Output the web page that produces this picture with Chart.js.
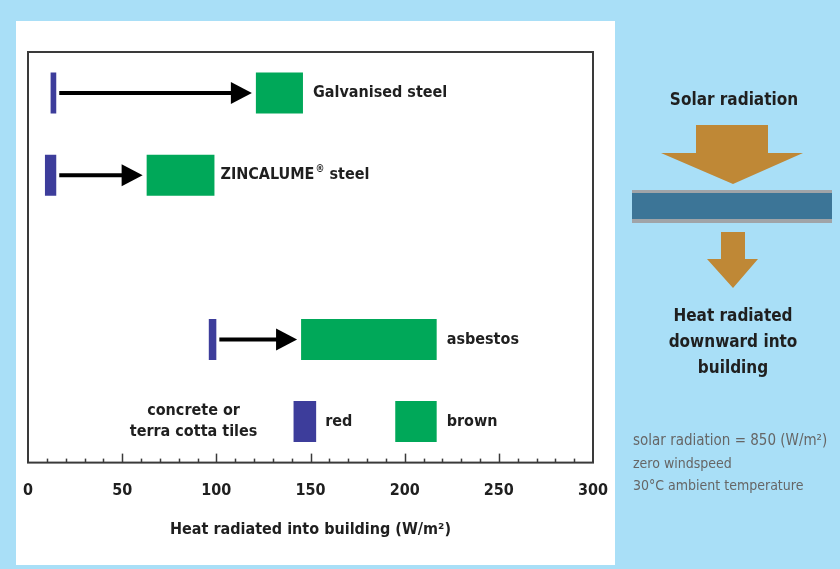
<!DOCTYPE html>
<html>
<head>
<meta charset="utf-8">
<script src="https://cdn.jsdelivr.net/npm/chart.js@4/dist/chart.umd.min.js"></script>
<style>
  body { margin: 0; background: #a9dff7; }
  canvas { display: block; }
</style>
</head>
<body>
<canvas id="chart" width="840" height="569"></canvas>
<script>
//--- Data.
const categories = ['Galvanised steel', 'ZINCALUME® steel', '', 'asbestos', ['concrete or', 'terra cotta tiles']];
const lowRange = [[12, 15], [9, 15], null, [96, 100], [141, 153]];
const highRange = [[121, 146], [63, 99], null, [145, 217], [195, 217]];
const lowLabels = ['', '', '', '', 'red'];
const highLabels = ['Galvanised steel', 'ZINCALUME|® steel', '', 'asbestos', 'brown'];
const arrowRows = [0, 1, 3];
const xTickStep = 50;
const xMinorStep = 10;

const FONT = "'Liberation Sans Narrow', 'DejaVu Sans Condensed', 'Arial Narrow', sans-serif";

//--- Background, side panel and annotations.
const heatPlugin = {
  id: 'heatPlugin',
  beforeDraw(chart) {
    const { ctx } = chart;
    ctx.save();
    ctx.fillStyle = '#a9dff7';
    ctx.fillRect(0, 0, chart.width, chart.height);
    ctx.fillStyle = '#ffffff';
    ctx.fillRect(16, 21, 599, 544);

    // Side panel: roof diagram.
    ctx.fillStyle = '#1f1f1f';
    ctx.font = 'bold 17px ' + FONT;
    ctx.textAlign = 'center';
    ctx.textBaseline = 'middle';
    ctx.fillText('Solar radiation', 734, 101);

    ctx.fillStyle = '#bf8836';
    ctx.beginPath();
    ctx.moveTo(696, 125);
    ctx.lineTo(768, 125);
    ctx.lineTo(768, 153);
    ctx.lineTo(803, 153);
    ctx.lineTo(733, 184);
    ctx.lineTo(661, 153);
    ctx.lineTo(696, 153);
    ctx.closePath();
    ctx.fill();

    ctx.fillStyle = '#a0a4a8';
    ctx.fillRect(632, 190, 200, 33);
    ctx.fillStyle = '#3c7597';
    ctx.fillRect(632, 193, 200, 26);

    ctx.fillStyle = '#bf8836';
    ctx.beginPath();
    ctx.moveTo(721, 232);
    ctx.lineTo(745, 232);
    ctx.lineTo(745, 259);
    ctx.lineTo(758, 259);
    ctx.lineTo(733, 288);
    ctx.lineTo(707, 259);
    ctx.lineTo(721, 259);
    ctx.closePath();
    ctx.fill();

    ctx.fillStyle = '#1f1f1f';
    ctx.fillText('Heat radiated', 733, 317);
    ctx.fillText('downward into', 733, 343);
    ctx.fillText('building', 733, 369);

    ctx.fillStyle = '#666666';
    ctx.textAlign = 'left';
    ctx.font = '15px ' + FONT;
    ctx.fillText('solar radiation = 850 (W/m²)', 633, 441);
    ctx.font = '14px ' + FONT;
    ctx.fillText('zero windspeed', 633, 464);
    ctx.fillText('30°C ambient temperature', 633, 486);
    ctx.restore();
  },
  afterDatasetsDraw(chart) {
    const { ctx, chartArea, scales } = chart;
    const x = scales.x;
    const lowMeta = chart.getDatasetMeta(0);
    ctx.save();

    // Frame.
    ctx.strokeStyle = '#3a3a3a';
    ctx.lineWidth = 2;
    ctx.strokeRect(chartArea.left, chartArea.top, chartArea.right - chartArea.left, chartArea.bottom - chartArea.top);

    // Tick marks pointing into the plot.
    ctx.lineWidth = 1.5;
    for (let v = x.min + xMinorStep; v < x.max; v += xMinorStep) {
      const px = Math.round(x.getPixelForValue(v)) + 0.5;
      const len = v % xTickStep === 0 ? 9 : 4;
      ctx.beginPath();
      ctx.moveTo(px, chartArea.bottom);
      ctx.lineTo(px, chartArea.bottom - len);
      ctx.stroke();
    }

    // Arrows from the low bar to the high bar.
    ctx.fillStyle = '#000000';
    ctx.strokeStyle = '#000000';
    arrowRows.forEach((i) => {
      const y = lowMeta.data[i].y;
      const x1 = x.getPixelForValue(lowRange[i][1]) + 3;
      const x2 = x.getPixelForValue(highRange[i][0]) - 4;
      ctx.lineWidth = 4;
      ctx.beginPath();
      ctx.moveTo(x1, y);
      ctx.lineTo(x2 - 18, y);
      ctx.stroke();
      ctx.beginPath();
      ctx.moveTo(x2, y);
      ctx.lineTo(x2 - 21, y - 11);
      ctx.lineTo(x2 - 21, y + 11);
      ctx.closePath();
      ctx.fill();
    });

    // Bar labels.
    ctx.fillStyle = '#1f1f1f';
    ctx.textBaseline = 'middle';
    ctx.textAlign = 'left';
    categories.forEach((cat, i) => {
      if (!highRange[i]) {
        return;
      }
      const y = lowMeta.data[i].y;
      ctx.font = 'bold 16px ' + FONT;
      if (lowLabels[i]) {
        ctx.fillText(lowLabels[i], x.getPixelForValue(lowRange[i][1]) + 9, y);
      }
      let tx = x.getPixelForValue(highRange[i][1]) + (i === 1 ? 6 : 10);
      const parts = highLabels[i].split('|');
      ctx.fillText(parts[0], tx, y);
      if (parts[1]) {
        tx += ctx.measureText(parts[0]).width + 1;
        ctx.font = 'bold 10px ' + FONT;
        ctx.fillText(parts[1][0], tx, y - 6);
        tx += ctx.measureText(parts[1][0]).width;
        ctx.font = 'bold 16px ' + FONT;
        ctx.fillText(parts[1].slice(1), tx, y);
      }
      if (Array.isArray(cat)) {
        ctx.textAlign = 'center';
        const cx = x.getPixelForValue(lowRange[i][0]) - 100;
        cat.forEach((line, k) => {
          ctx.fillText(line, cx, y - 11 + 21 * k);
        });
        ctx.textAlign = 'left';
      }
    });
    ctx.restore();
  }
};

new Chart(document.getElementById('chart'), {
  type: 'bar',
  data: {
    labels: categories,
    datasets: [
      {
        label: 'low',
        data: lowRange,
        backgroundColor: '#3d3d9b',
        grouped: false,
        barPercentage: 1,
        categoryPercentage: 0.5
      },
      {
        label: 'high',
        data: highRange,
        backgroundColor: '#00a859',
        grouped: false,
        barPercentage: 1,
        categoryPercentage: 0.5
      }
    ]
  },
  options: {
    indexAxis: 'y',
    responsive: false,
    animation: false,
    events: [],
    layout: {
      padding: { left: 28, top: 52, right: 247, bottom: 30 }
    },
    scales: {
      x: {
        type: 'linear',
        min: 0,
        max: 300,
        grid: { display: false, drawTicks: false },
        border: { display: false },
        ticks: {
          stepSize: xTickStep,
          padding: 19,
          color: '#1f1f1f',
          font: { family: FONT, size: 16, weight: 'bold' }
        },
        title: {
          display: true,
          text: 'Heat radiated into building (W/m²)',
          color: '#1f1f1f',
          padding: { top: 0, bottom: 0 },
          font: { family: FONT, size: 16, weight: 'bold' }
        }
      },
      y: {
        type: 'category',
        display: false,
        offset: true
      }
    },
    plugins: {
      legend: { display: false },
      tooltip: { enabled: false }
    }
  },
  plugins: [heatPlugin]
});
</script>
</body>
</html>
